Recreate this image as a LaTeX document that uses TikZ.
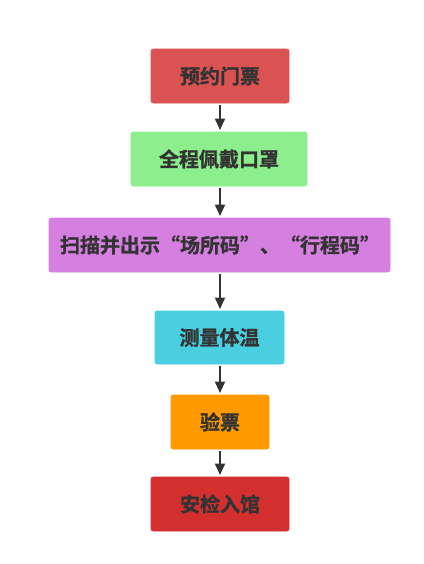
\documentclass[tikz,border=0pt]{standalone}
\usepackage{fontspec}
\setmainfont{Noto Sans CJK SC Bold}[FakeBold=1.2]
\usetikzlibrary{arrows.meta}
\definecolor{cA}{HTML}{DA5252}
\definecolor{cB}{HTML}{8CEE8C}
\definecolor{cC}{HTML}{D580E0}
\definecolor{cD}{HTML}{4ACFE0}
\definecolor{cE}{HTML}{FF9900}
\definecolor{cF}{HTML}{D32F2F}
\definecolor{txt}{HTML}{333333}
\tikzset{
  box/.style={rounded corners=1.5pt, text=txt, font=\fontsize{15}{18}\selectfont},
  arr/.style={draw=txt, line width=1.3pt, -{Triangle[length=8.5pt,width=7.5pt]}}
}
\begin{document}
\begin{tikzpicture}[x=0.75pt,y=-0.75pt]
\useasboundingbox (0,0) rectangle (424,564);
\fill[white] (0,0) rectangle (424,564);
\filldraw[box, fill=cA, draw=cA] (151,49) rectangle (289,103);
\node[box] (a) at (220,76) {预约门票};
\filldraw[box, fill=cB, draw=cB] (131,132) rectangle (307,186);
\node[box] (b) at (219,159) {全程佩戴口罩};
\filldraw[box, fill=cC, draw=cC] (49,218) rectangle (390,272);
\node[box] (c) at (220,245) {扫描并出示“场所码”、“行程码”};
\filldraw[box, fill=cD, draw=cD] (155,311) rectangle (284,364);
\node[box] (d) at (219.5,337.5) {测量体温};
\filldraw[box, fill=cE, draw=cE] (171,395) rectangle (269,449);
\node[box] (e) at (220,422) {验票};
\filldraw[box, fill=cF, draw=cF] (151,477) rectangle (289,531);
\node[box] (f) at (220,504) {安检入馆};
\coordinate (a1) at (220,105); \coordinate (b0) at (220,130);
\coordinate (b1) at (220,188); \coordinate (c0) at (220,216);
\coordinate (c1) at (220,274); \coordinate (d0) at (220,309);
\coordinate (d1) at (220,366); \coordinate (e0) at (220,393);
\coordinate (e1) at (220,451); \coordinate (f0) at (220,475);
\draw[arr] (a1) -- (b0);
\draw[arr] (b1) -- (c0);
\draw[arr] (c1) -- (d0);
\draw[arr] (d1) -- (e0);
\draw[arr] (e1) -- (f0);
\end{tikzpicture}
\end{document}
